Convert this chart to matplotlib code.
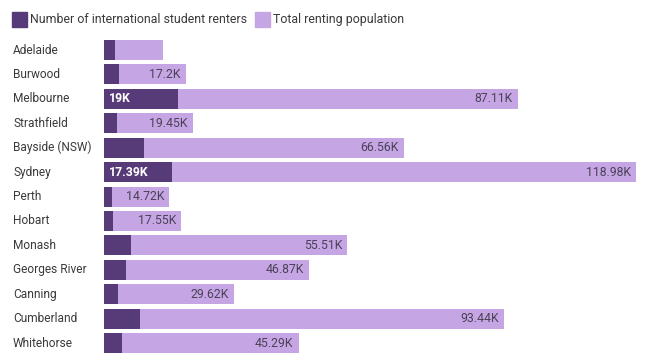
import matplotlib
matplotlib.use("Agg")
import matplotlib.pyplot as plt
import matplotlib.transforms as mtrans
from matplotlib.patches import Rectangle

plt.rcParams['font.family'] = ['Roboto', 'DejaVu Sans']

areas = ["Adelaide", "Burwood", "Melbourne", "Strathfield", "Bayside (NSW)", "Sydney",
         "Perth", "Hobart", "Monash", "Georges River", "Canning", "Cumberland", "Whitehorse"]
students = [2.8, 3.8, 19.0, 3.3, 10.3, 17.39, 2.0, 2.3, 6.9, 5.6, 3.6, 9.2, 4.6]
renters = [12.3, 17.2, 87.11, 19.45, 66.56, 118.98, 14.72, 17.55, 55.51, 46.87, 29.62, 93.44, 45.29]

dark = "#573b78"
light = "#c5a5e3"

fig = plt.figure(figsize=(6.5, 3.64), dpi=100)
ax = fig.add_axes([0.16, 0.024, 0.818, 0.872])

y = list(range(len(areas)))
ax.barh(y, students, height=0.82, color=dark)
ax.barh(y, renters, left=students, height=0.82, color=light)


def fmt(v):
    s = f"{v:.2f}".rstrip("0").rstrip(".")
    return s + "K"


pad = 1.3
for i in y:
    # label only when the segment is wide enough
    if students[i] > 15:
        ax.text(pad, i, fmt(students[i]), color="white", fontweight="bold",
                fontsize=8.8, ha="left", va="center")
    if renters[i] > 13:
        ax.text(students[i] + renters[i] - pad, i, fmt(renters[i]), color="#4a4257",
                fontsize=8.8, ha="right", va="center")

ax.set_xlim(0, students[5] + renters[5])
ax.set_ylim(len(areas) - 0.5, -0.5)
ax.axis("off")

# category names, fixed x in pixels
trans = mtrans.blended_transform_factory(fig.dpi_scale_trans, ax.transData)
for i, name in enumerate(areas):
    ax.text(0.13, i, name, transform=trans, fontsize=8.6, color="#3a3a3a",
            ha="left", va="center")

# legend
fig.patches.append(Rectangle((12 / 650, 1 - 27 / 364), 15 / 650, 15 / 364,
                             transform=fig.transFigure, color=dark))
fig.text(30 / 650, 1 - 19.5 / 364, "Number of international student renters",
         fontsize=8.9, color="#3a3a3a", va="center")
fig.patches.append(Rectangle((255 / 650, 1 - 27 / 364), 15 / 650, 15 / 364,
                             transform=fig.transFigure, color=light))
fig.text(273 / 650, 1 - 19.5 / 364, "Total renting population",
         fontsize=8.9, color="#3a3a3a", va="center")

fig.savefig("out.png", dpi=100)
